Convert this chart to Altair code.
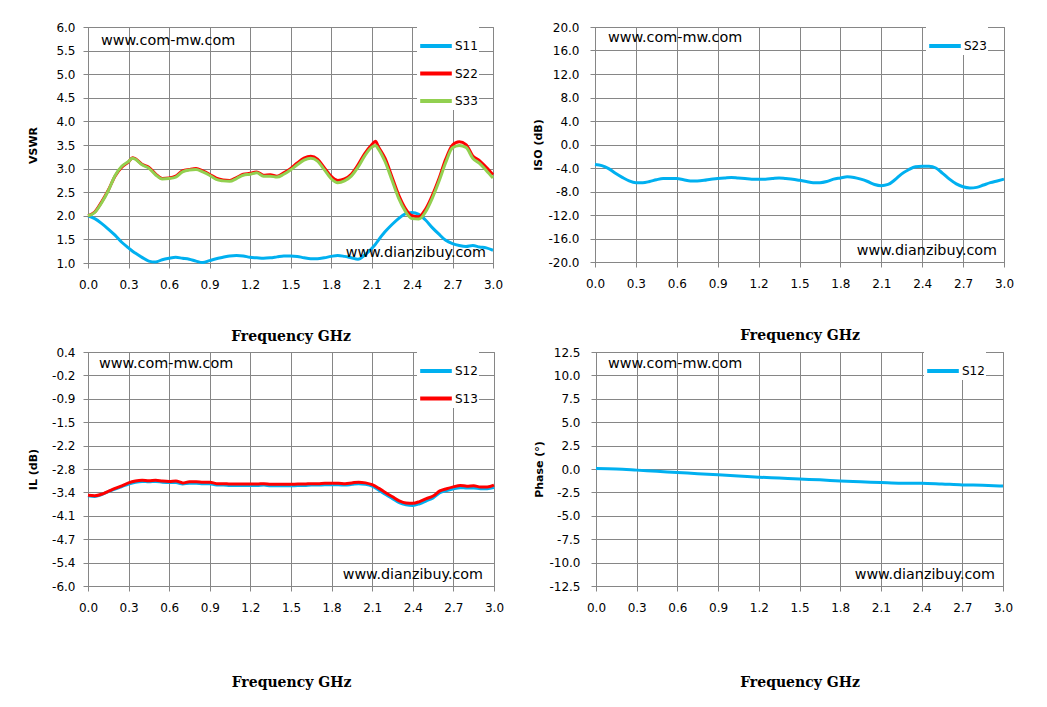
import altair as alt
import pandas as pd

# ---------------- data ----------------
F_VSWR = [0.00, 0.05, 0.10, 0.15, 0.20, 0.25, 0.30, 0.33, 0.35, 0.40, 0.45, 0.50, 0.55, 0.60, 0.65,
          0.70, 0.75, 0.80, 0.85, 0.90, 0.95, 1.00, 1.05, 1.10, 1.15, 1.20, 1.25, 1.30, 1.35, 1.40,
          1.45, 1.50, 1.55, 1.60, 1.65, 1.70, 1.75, 1.80, 1.85, 1.90, 1.95, 2.00, 2.05, 2.10, 2.13,
          2.15, 2.20, 2.25, 2.30, 2.35, 2.40, 2.45, 2.50, 2.55, 2.60, 2.65, 2.70, 2.75, 2.80, 2.85,
          2.90, 2.95, 3.00]
S11 = [2.00, 1.94, 1.84, 1.72, 1.59, 1.44, 1.32, 1.25, 1.21, 1.12, 1.04, 1.02, 1.07, 1.10, 1.12,
       1.10, 1.08, 1.04, 1.01, 1.05, 1.09, 1.12, 1.15, 1.16, 1.15, 1.12, 1.11, 1.10, 1.11, 1.13,
       1.15, 1.15, 1.14, 1.11, 1.09, 1.09, 1.11, 1.14, 1.16, 1.14, 1.11, 1.08, 1.17, 1.30, 1.40,
       1.48, 1.66, 1.81, 1.94, 2.04, 2.07, 2.03, 1.91, 1.75, 1.61, 1.48, 1.41, 1.37, 1.35, 1.37,
       1.34, 1.32, 1.27]
S22 = [2.00, 2.08, 2.29, 2.54, 2.84, 3.03, 3.14, 3.23, 3.21, 3.09, 3.03, 2.89, 2.79, 2.80, 2.84,
       2.95, 2.98, 3.00, 2.95, 2.88, 2.80, 2.76, 2.75, 2.81, 2.88, 2.90, 2.93, 2.86, 2.87, 2.84,
       2.91, 3.00, 3.12, 3.22, 3.26, 3.20, 3.02, 2.84, 2.75, 2.78, 2.88, 3.08, 3.32, 3.50, 3.58,
       3.47, 3.22, 2.84, 2.45, 2.16, 2.00, 1.98, 2.14, 2.43, 2.79, 3.20, 3.50, 3.57, 3.51, 3.27,
       3.17, 3.03, 2.87]
S33 = [2.00, 2.07, 2.27, 2.53, 2.85, 3.05, 3.15, 3.22, 3.20, 3.08, 3.01, 2.87, 2.78, 2.79, 2.82,
       2.93, 2.97, 2.98, 2.93, 2.86, 2.77, 2.74, 2.73, 2.79, 2.86, 2.88, 2.91, 2.84, 2.84, 2.82,
       2.88, 2.97, 3.08, 3.18, 3.22, 3.16, 2.98, 2.79, 2.70, 2.74, 2.84, 3.03, 3.27, 3.45, 3.49,
       3.42, 3.15, 2.77, 2.38, 2.10, 1.94, 1.93, 2.08, 2.37, 2.73, 3.13, 3.44, 3.49, 3.45, 3.22,
       3.11, 2.96, 2.80]

F_GRID = [round(i * 0.05, 2) for i in range(61)]
S23 = [-3.4, -3.6, -4.1, -4.9, -5.6, -6.2, -6.5, -6.5, -6.3, -6.0,
       -5.8, -5.8, -5.8, -6.0, -6.2, -6.2, -6.1, -5.9, -5.8, -5.7,
       -5.6, -5.7, -5.8, -5.9, -5.9, -5.9, -5.8, -5.7, -5.8, -5.9,
       -6.1, -6.3, -6.5, -6.5, -6.3, -5.9, -5.7, -5.5, -5.6, -5.9,
       -6.3, -6.8, -7.0, -6.8, -6.0, -5.0, -4.3, -3.8, -3.7, -3.7,
       -4.0, -4.9, -5.9, -6.7, -7.2, -7.4, -7.3, -6.9, -6.5, -6.2,
       -5.9]
IL_S12 = [-3.53, -3.55, -3.50, -3.42, -3.35, -3.28, -3.21, -3.16, -3.14, -3.15,
          -3.14, -3.16, -3.17, -3.17, -3.21, -3.19, -3.19, -3.20, -3.20, -3.24,
          -3.24, -3.25, -3.25, -3.25, -3.25, -3.25, -3.24, -3.26, -3.26, -3.26,
          -3.26, -3.25, -3.25, -3.24, -3.24, -3.23, -3.23, -3.23, -3.24, -3.22,
          -3.20, -3.22, -3.27, -3.38, -3.50, -3.61, -3.72, -3.78, -3.80, -3.75,
          -3.67, -3.59, -3.45, -3.39, -3.34, -3.31, -3.32, -3.32, -3.34, -3.34,
          -3.31]
IL_S13 = [-3.52, -3.53, -3.49, -3.41, -3.33, -3.26, -3.18, -3.13, -3.11, -3.12,
          -3.11, -3.13, -3.14, -3.13, -3.18, -3.15, -3.15, -3.16, -3.16, -3.20,
          -3.20, -3.21, -3.21, -3.21, -3.21, -3.21, -3.20, -3.22, -3.22, -3.22,
          -3.22, -3.21, -3.21, -3.20, -3.20, -3.19, -3.19, -3.19, -3.20, -3.18,
          -3.16, -3.18, -3.23, -3.33, -3.45, -3.56, -3.67, -3.73, -3.74, -3.69,
          -3.61, -3.54, -3.40, -3.34, -3.29, -3.25, -3.27, -3.26, -3.29, -3.29,
          -3.24]

F_PHASE = [0.00, 0.15, 0.30, 0.45, 0.60, 0.75, 0.90, 1.05, 1.20, 1.35, 1.50, 1.65, 1.80, 1.95,
           2.10, 2.25, 2.40, 2.55, 2.70, 2.85, 3.00]
PH_S12 = [0.05, 0.00, -0.12, -0.25, -0.37, -0.50, -0.62, -0.74, -0.87, -0.97, -1.08, -1.16,
          -1.28, -1.36, -1.45, -1.53, -1.51, -1.60, -1.70, -1.74, -1.82]

X_TICKS = [0.0, 0.3, 0.6, 0.9, 1.2, 1.5, 1.8, 2.1, 2.4, 2.7, 3.0]
Y_VSWR = [1.0, 1.5, 2.0, 2.5, 3.0, 3.5, 4.0, 4.5, 5.0, 5.5, 6.0]
Y_ISO = [-20.0, -16.0, -12.0, -8.0, -4.0, 0.0, 4.0, 8.0, 12.0, 16.0, 20.0]
Y_IL = [-6.0, -5.36, -4.72, -4.08, -3.44, -2.8, -2.16, -1.52, -0.88, -0.24, 0.4]
Y_PH = [-12.5, -10.0, -7.5, -5.0, -2.5, 0.0, 2.5, 5.0, 7.5, 10.0, 12.5]

GRID = "#868686"
BLUE = "#00B0F0"
RED = "#FF0000"
GREEN = "#92D050"
WM_TOP = ["www.com-mw.com"]
WM_BOT = ["www.dianzibuy.com"]

LABEL_EXPR = "replace(format(datum.value, '.1f'), '\u2212', '-')"


def frame(freqs, series):
    rows = []
    for name, vals in series:
        for f, v in zip(freqs, vals):
            rows.append({"f": f, "v": v, "s": name})
    return pd.DataFrame(rows)


def panel(df, names, colors, ydom, yticks, ytitle, w, h, lx, wm, xtp, ylay):
    ext, ytp, ylp = ylay
    xax = alt.Axis(values=X_TICKS, labelExpr=LABEL_EXPR, title="Frequency GHz",
                   titleFont="DejaVu Serif", titleFontWeight="bold", titleFontSize=14,
                   titlePadding=xtp, labelFont="DejaVu Sans", labelFontSize=12,
                   labelColor="black", labelPadding=11, labelFlush=False, tickSize=5,
                   tickColor=GRID, domainColor=GRID, gridColor=GRID, grid=True)
    yax = alt.Axis(values=yticks, labelExpr=LABEL_EXPR, title=ytitle, titleFont="DejaVu Sans",
                   titleFontWeight="bold", titleFontSize=11, titlePadding=ytp,
                   labelFont="DejaVu Sans", labelFontSize=12, labelColor="black",
                   labelPadding=ylp, labelFlush=False, tickSize=5, tickColor=GRID,
                   domainColor=GRID, gridColor=GRID, grid=True, minExtent=ext, maxExtent=ext)
    leg = alt.Legend(orient="none", legendX=lx, legendY=0, title=None, fillColor="white",
                     padding=1, symbolType="stroke", symbolSize=1000, symbolStrokeWidth=4,
                     labelFont="DejaVu Sans", labelFontSize=12, labelColor="black",
                     labelOffset=1, rowPadding=1.5)
    lines = alt.Chart(df).mark_line(strokeWidth=3, interpolate="monotone").encode(
        x=alt.X("f:Q", scale=alt.Scale(domain=[0, 3], nice=False, zero=False), axis=xax),
        y=alt.Y("v:Q", scale=alt.Scale(domain=ydom, nice=False, zero=False), axis=yax),
        color=alt.Color("s:N", scale=alt.Scale(domain=names, range=colors), legend=leg),
    )
    t1 = alt.Chart(pd.DataFrame({"t": WM_TOP})).mark_text(
        align="left", baseline="middle", font="DejaVu Sans", fontSize=14.4, color="black").encode(
        x=alt.value(wm[0]), y=alt.value(wm[1]), text="t:N")
    t2 = alt.Chart(pd.DataFrame({"t": WM_BOT})).mark_text(
        align="right", baseline="middle", font="DejaVu Sans", fontSize=14.3, color="black").encode(
        x=alt.value(w - wm[2]), y=alt.value(h - wm[3]), text="t:N")
    return alt.layer(lines, t1, t2).properties(width=w, height=h)


LEFT = (40, 10, 8)
RIGHT = (47, 5, 11)

p1 = panel(frame(F_VSWR, [("S11", S11), ("S22", S22), ("S33", S33)]),
           ["S11", "S22", "S33"], [BLUE, RED, GREEN], [1.0, 6.0], Y_VSWR, "VSWR",
           405, 236, 329, (13, 14, 7, 10), 39, LEFT)
p2 = panel(frame(F_GRID, [("S23", S23)]), ["S23"], [BLUE], [-20.0, 20.0], Y_ISO, "ISO (dB)",
           409, 235, 331, (13, 11, 7, 11), 39, RIGHT)
p3 = panel(frame(F_GRID, [("S12", IL_S12), ("S13", IL_S13)]), ["S12", "S13"], [BLUE, RED],
           [-6.0, 0.4], Y_IL, "IL (dB)", 406, 234, 329, (11, 12, 11, 11), 62, LEFT)
p4 = panel(frame(F_PHASE, [("S12", PH_S12)]), ["S12"], [BLUE], [-12.5, 12.5], Y_PH,
           "Phase (°)", 407, 234, 328, (12, 12, 8, 11), 62, RIGHT)

row1 = alt.hconcat(p1, p2, spacing=27).resolve_scale(color="independent")
row2 = alt.hconcat(p3, p4, spacing=27).resolve_scale(color="independent")
chart = alt.vconcat(row1, row2, spacing=1).resolve_scale(color="independent").properties(
    padding={"left": 18, "top": 12, "right": 5, "bottom": 5},
    background="white",
).configure_view(stroke=GRID, strokeWidth=1)

chart.save("out.html", embed_options={"renderer": "svg", "actions": False})
